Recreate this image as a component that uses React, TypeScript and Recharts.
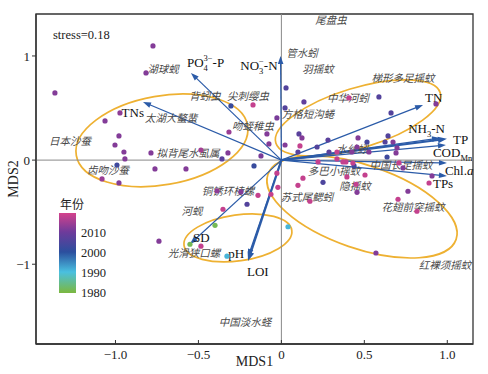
import React from 'react';
import { ScatterChart, Scatter, XAxis, YAxis, ReferenceLine, ReferenceArea } from 'recharts';

// ---------- axes ----------
const X_DOMAIN: [number, number] = [-1.479, 1.155];
const Y_DOMAIN: [number, number] = [-1.766, 1.403];
const X_TICKS = [-1, -0.5, 0, 0.5, 1];
const Y_TICKS = [-1, 0, 1];
const X_TITLE = 'MDS1';
const Y_TITLE = 'MDS2';
const STRESS_LABEL = 'stress=0.18';
const LEGEND_TITLE = '年份';
const LEGEND_TICKS = [2010, 2000, 1990, 1980];

// ---------- sample sites: [MDS1, MDS2, year] ----------
const SITES: [number, number, number][] = [
  [-0.774, 1.096, 2012], [-0.816, 0.837, 2012], [-1.365, 0.645, 2012], [-0.304, 0.52, 2002],
  [-0.973, 0.453, 2013], [-1.063, 0.376, 2012], [-0.316, 0.27, 2014], [-0.979, 0.232, 2012],
  [-1.003, 0.145, 2012], [-0.949, 0.078, 2012], [-0.786, 0.069, 2012], [-0.485, 0.097, 2015],
  [-0.322, 0.069, 2012], [-0.943, 0.011, 2012], [-0.358, 0.011, 2007], [-0.991, -0.047, 2003],
  [-0.762, -0.085, 2012], [-0.575, -0.085, 2012], [-1.081, -0.181, 2014], [-0.979, -0.219, 2012],
  [-0.388, -0.296, 2013], [-0.207, -0.424, 2006], [-0.352, -0.472, 2018], [-0.4, -0.626, 1981],
  [-0.738, -0.779, 2012], [-0.551, -0.808, 1981], [-0.485, -0.827, 2018], [-0.328, -0.923, 1991],
  [0.04, -0.64, 1991], [-0.165, -0.056, 2002], [-0.027, -0.126, 2018], [-0.021, -0.261, 2018],
  [-0.141, -0.338, 2018], [-0.063, -0.328, 2018], [-0.244, -0.306, 2012], [0.13, -0.174, 2018],
  [0.1, -0.242, 2018], [0.251, -0.213, 2005], [0.172, -0.395, 2018], [0.45, -0.232, 2018],
  [0.456, -0.309, 2012], [0.703, -0.376, 2018], [0.763, -0.299, 2012], [0.817, -0.491, 2018],
  [0.89, -0.22, 2018], [0.57, -0.892, 2012], [0.395, -0.162, 2018], [0.504, -0.143, 2018],
  [0.438, -0.056, 2003], [0.389, -0.018, 2018], [0.908, -0.152, 2012], [0.709, -0.027, 2018],
  [0.733, -0.075, 2012], [-0.027, 0.405, 2011], [0.106, 0.251, 2007], [0.124, 0.213, 2012],
  [0.022, 0.145, 2012], [0.112, 0.136, 2018], [0.281, 0.193, 2007], [0.462, 0.213, 2012],
  [0.516, 0.174, 2004], [0.456, 0.126, 2012], [0.287, 0.078, 2007], [0.335, 0.078, 2018],
  [0.1, 0.078, 2007], [0.221, -0.018, 2018], [0.028, 0.693, 2006], [-0.171, 0.53, 2018],
  [0.022, 0.501, 2006], [0.136, 0.559, 2008], [-0.087, 0.251, 2012], [-0.075, 0.155, 2012],
  [0.215, 0.126, 2006], [-0.123, 0.04, 2011], [0.407, 0.597, 2018], [0.588, 0.607, 2006],
  [0.661, 0.453, 2006], [0.932, 0.539, 2012], [0.643, 0.232, 2006], [0.625, 0.174, 2006],
  [0.673, 0.174, 2012], [0.697, 0.117, 2012], [0.691, 0.069, 2012], [0.637, 0.03, 2003],
  [0.528, 0.078, 2012], [0.371, -0.018, 2018], [0.425, 0.078, 2012], [0.431, -0.028, 2018],
  [0.335, 0.011, 2018],
];

// ---------- species scores ----------
const SPECIES_NAMES = [
  '尾盘虫', '管水蚓', '羽摇蚊', '梯形多足摇蚊', '中华河蚓', '方格短沟蜷', '水丝蚓', '中国长足摇蚊',
  '多巴小摇蚊', '隐摇蚊', '苏式尾鳃蚓', '花翅前突摇蚊', '红裸须摇蚊', '中国淡水蛏', '光滑狭口螺', '河蚬',
  '铜锈环棱螺', '拟背尾水虱属', '齿吻沙蚕', '日本沙蚕', '太湖大螯蜚', '湖球蚬', '背蚓虫', '尖刺缨虫', '吻蛭稚虫',
];
const SPECIES_X = [
  0.299, 0.124, 0.221, 0.733, 0.401, 0.16, 0.426, 0.721,
  0.317, 0.444, 0.154, 0.793, 0.986, -0.219, -0.527, -0.539,
  -0.322, -0.563, -1.045, -1.274, -0.665, -0.714, -0.461, -0.201, -0.171,
];
const SPECIES_Y = [
  1.346, 1.038, 0.875, 0.789, 0.601, 0.443, 0.107, -0.047,
  -0.104, -0.248, -0.354, -0.45, -1.0, -1.553, -0.891, -0.488,
  -0.296, 0.069, -0.095, 0.184, 0.405, 0.875, 0.616, 0.616, 0.328,
];

// ---------- environmental vectors ----------
const ENV_NAMES = ['PO4-P', 'NO3-N', 'TNs', 'TN', 'NH3-N', 'TP', 'CODMn', 'Chl.a', 'TPs', 'SD', 'pH', 'LOI'];
const ENV_X = [-0.545, -0.005, -0.834, 0.854, 0.956, 0.998, 0.992, 0.998, 0.998, -0.551, -0.201, -0.201];
const ENV_Y = [0.837, 1.0, 0.558, 0.53, 0.212, 0.204, 0.145, -0.027, -0.152, -0.806, -0.93, -0.968];

// ---------- group ellipses: centre, semi-axes (axis units), tilt ----------
const ELLIPSE_CX = [-0.72, 0.462, 0.486, -0.262];
const ELLIPSE_CY = [0.189, 0.405, -0.45, -0.747];
const ELLIPSE_RX = [0.524, 0.518, 0.6, 0.328];
const ELLIPSE_RY = [0.427, 0.288, 0.4, 0.221];
const ELLIPSE_TILT = [10, 17, -19, 8];

// ---------- styles ----------
const SERIF = 'Liberation Serif';
const CJK = 'Noto Sans CJK SC';
const ARROW = '#2b5ba8';
const ELLIPSE_COLOR = '#eeb132';
const YEAR_STOPS = [1980, 1990, 2000, 2010, 2019.5];
const YEAR_COLORS = ['#7ab845', '#4ac0e0', '#2b4f9e', '#6e3b9b', '#d4428c'];

const THICK = new Set(['TP', 'LOI']);
const LABEL_POS: Record<string, { dx: number; dy: number; anchor: 'start' | 'end' }> = {
  'PO4-P': { dx: -4, dy: -6, anchor: 'start' },
  'NO3-N': { dx: -3, dy: 14, anchor: 'end' },
  TNs: { dx: 1, dy: 15, anchor: 'end' },
  TN: { dx: 2, dy: -3, anchor: 'start' },
  'NH3-N': { dx: 5, dy: -5, anchor: 'end' },
  TP: { dx: 6, dy: 5, anchor: 'start' },
  CODMn: { dx: -13, dy: 12, anchor: 'start' },
  'Chl.a': { dx: -2, dy: 12, anchor: 'start' },
  TPs: { dx: -14, dy: 12, anchor: 'start' },
  SD: { dx: 3, dy: -2, anchor: 'start' },
  pH: { dx: -4, dy: 1, anchor: 'end' },
  LOI: { dx: -1, dy: 15, anchor: 'start' },
};

function hexToRgb(h: string) {
  return [1, 3, 5].map((i) => parseInt(h.slice(i, i + 2), 16));
}
function yearColor(y: number) {
  let i = 0;
  while (i < YEAR_STOPS.length - 2 && y > YEAR_STOPS[i + 1]) i++;
  const t = Math.max(0, Math.min(1, (y - YEAR_STOPS[i]) / (YEAR_STOPS[i + 1] - YEAR_STOPS[i])));
  const a = hexToRgb(YEAR_COLORS[i]);
  const b = hexToRgb(YEAR_COLORS[i + 1]);
  const c = a.map((v, k) => Math.round(v + (b[k] - v) * t));
  return `rgb(${c[0]},${c[1]},${c[2]})`;
}

const siteData = SITES.map(([x, y, year]) => ({ x, y, year }));
const speciesData = SPECIES_NAMES.map((name, i) => ({ name, x: SPECIES_X[i], y: SPECIES_Y[i] }));
const envData = ENV_NAMES.map((name, i) => ({ name, x: ENV_X[i], y: ENV_Y[i] }));
const ellipseData = ELLIPSE_CX.map((cx, i) => ({
  cx, cy: ELLIPSE_CY[i], rx: ELLIPSE_RX[i], ry: ELLIPSE_RY[i], tilt: ELLIPSE_TILT[i],
}));

function envLabel(name: string) {
  const s = 8.5;
  switch (name) {
    case 'PO4-P':
      return (
        <>
          PO<tspan fontSize={s} dy={4}>4</tspan>
          <tspan fontSize={s} dx={-4.3} dy={-10}>3−</tspan>
          <tspan dy={6}>-P</tspan>
        </>
      );
    case 'NO3-N':
      return (
        <>
          NO<tspan fontSize={s} dy={4}>3</tspan>
          <tspan fontSize={s} dx={-4.3} dy={-10}>−</tspan>
          <tspan dy={6}>-N</tspan>
        </>
      );
    case 'NH3-N':
      return (
        <>
          NH<tspan fontSize={s} dy={4}>3</tspan>
          <tspan dy={-4}>-N</tspan>
        </>
      );
    case 'CODMn':
      return (
        <>
          COD<tspan fontSize={s} dy={4}>Mn</tspan>
        </>
      );
    case 'Chl.a':
      return (
        <>
          Chl.<tspan fontStyle="italic">a</tspan>
        </>
      );
    default:
      return name;
  }
}

const arrowShape = (name: string) => (props: any) => {
  const { x1, y1, x2, y2 } = props;
  const ang = Math.atan2(y2 - y1, x2 - x1);
  const thick = THICK.has(name);
  const L = thick ? 9 : 8;
  const W = thick ? 3.4 : 2.8;
  const bx = x2 - L * Math.cos(ang);
  const by = y2 - L * Math.sin(ang);
  const p1 = `${bx + W * Math.sin(ang)},${by - W * Math.cos(ang)}`;
  const p2 = `${bx - W * Math.sin(ang)},${by + W * Math.cos(ang)}`;
  const pos = LABEL_POS[name];
  return (
    <g>
      <line x1={x1} y1={y1} x2={bx + 2 * Math.cos(ang)} y2={by + 2 * Math.sin(ang)} stroke={ARROW} strokeWidth={thick ? 2.2 : 1.2} />
      <polygon points={`${x2},${y2} ${p1} ${p2}`} fill={ARROW} />
      <text x={x2 + pos.dx} y={y2 + pos.dy} textAnchor={pos.anchor} style={{ fontFamily: SERIF }} fontSize={13} fill="#111">
        {envLabel(name)}
      </text>
    </g>
  );
};

const ellipseShape = (tilt: number) => (p: any) => {
  const cx = p.x + p.width / 2;
  const cy = p.y + p.height / 2;
  return (
    <ellipse cx={cx} cy={cy} rx={Math.abs(p.width) / 2} ry={Math.abs(p.height) / 2}
      transform={`rotate(${-tilt} ${cx} ${cy})`} fill="none" stroke={ELLIPSE_COLOR} strokeWidth={1.7} />
  );
};

const fmtX = (v: number) => (v === 0 ? '0' : (v < 0 ? '−' : '') + Math.abs(v).toFixed(1));
const fmtY = (v: number) => (v === 0 ? '0' : (v < 0 ? '−' : '') + Math.abs(v).toFixed(0));

const W = 488;
const H = 374;
const PLOT = { left: 36, right: 473, top: 14, bottom: 344 };
const LEG = { x: 59, top: 213, bottom: 293, w: 17, yTop: 2019.5, yBottom: 1979.5 };
const legY = (yr: number) => LEG.top + ((LEG.yTop - yr) / (LEG.yTop - LEG.yBottom)) * (LEG.bottom - LEG.top);
const tickStyle = { fontFamily: SERIF, fontSize: 13, fill: '#222', style: { fontFamily: SERIF } };

export default function App() {
  return (
    <div style={{ position: 'absolute', left: 0, top: 0, width: W, height: H, background: '#fff' }}>
      <ScatterChart width={W} height={H} margin={{ top: PLOT.top, right: W - PLOT.right, bottom: 0, left: 0 }}>
        <defs>
          <linearGradient id="yearGrad" x1="0" y1="0" x2="0" y2="1">
            {YEAR_STOPS.slice().reverse().map((yr, i) => (
              <stop key={yr} offset={(LEG.yTop - yr) / (LEG.yTop - LEG.yBottom)}
                stopColor={YEAR_COLORS[YEAR_COLORS.length - 1 - i]} />
            ))}
          </linearGradient>
        </defs>
        <XAxis type="number" dataKey="x" domain={X_DOMAIN} ticks={X_TICKS} allowDataOverflow
          height={H - PLOT.bottom} tickFormatter={fmtX} tickSize={-4} tickMargin={10}
          axisLine={{ stroke: '#333', strokeWidth: 1.3 }} tickLine={{ stroke: '#333' }}
          tick={tickStyle} />
        <YAxis type="number" dataKey="y" domain={Y_DOMAIN} ticks={Y_TICKS} allowDataOverflow
          width={PLOT.left} tickFormatter={fmtY} tickSize={4} tickMargin={2}
          axisLine={{ stroke: '#333', strokeWidth: 1.3 }} tickLine={{ stroke: '#333' }}
          tick={tickStyle} />
        <ReferenceArea x1={X_DOMAIN[0]} x2={X_DOMAIN[1]} y1={Y_DOMAIN[0]} y2={Y_DOMAIN[1]}
          fill="none" stroke="#333" strokeWidth={1.3} ifOverflow="visible" />
        <ReferenceLine x={0} stroke="#888" strokeWidth={1} />
        <ReferenceLine y={0} stroke="#888" strokeWidth={1} />
        {ellipseData.map((e, i) => (
          <ReferenceArea key={`el${i}`} x1={e.cx - e.rx} x2={e.cx + e.rx} y1={e.cy - e.ry} y2={e.cy + e.ry}
            ifOverflow="visible" shape={ellipseShape(e.tilt)} />
        ))}
        {envData.map((e) => (
          <ReferenceLine key={e.name} segment={[{ x: 0, y: 0 }, { x: e.x, y: e.y }]} ifOverflow="visible"
            shape={arrowShape(e.name)} />
        ))}
        <Scatter data={speciesData} isAnimationActive={false}
          shape={(p: any) => (
            <text x={p.cx} y={p.cy} textAnchor="middle" dominantBaseline="central" style={{ fontFamily: CJK }}
              fontStyle="italic" fontSize={10.5} fill="#4a4a4a">
              {p.payload.name}
            </text>
          )} />
        <Scatter data={siteData} isAnimationActive={false}
          shape={(p: any) => <circle cx={p.cx} cy={p.cy} r={2.6} fill={yearColor(p.payload.year)} />} />
        <text x={53} y={39} style={{ fontFamily: SERIF }} fontSize={12.5} fill="#222">{STRESS_LABEL}</text>
        <text x={(PLOT.left + PLOT.right) / 2} y={366} textAnchor="middle" style={{ fontFamily: SERIF }} fontSize={14} fill="#222">{X_TITLE}</text>
        <text x={18} y={(PLOT.top + PLOT.bottom) / 2} textAnchor="middle" style={{ fontFamily: SERIF }} fontSize={14} fill="#222"
          transform={`rotate(-90 18 ${(PLOT.top + PLOT.bottom) / 2})`}>{Y_TITLE}</text>
        <text x={60} y={209} style={{ fontFamily: CJK }} fontSize={12} fill="#222">{LEGEND_TITLE}</text>
        <rect x={LEG.x} y={LEG.top} width={LEG.w} height={LEG.bottom - LEG.top} fill="url(#yearGrad)" />
        {LEGEND_TICKS.map((yr) => (
          <text key={yr} x={81} y={legY(yr) + 4.5} style={{ fontFamily: SERIF }} fontSize={12.5} fill="#222">{yr}</text>
        ))}
      </ScatterChart>
    </div>
  );
}
